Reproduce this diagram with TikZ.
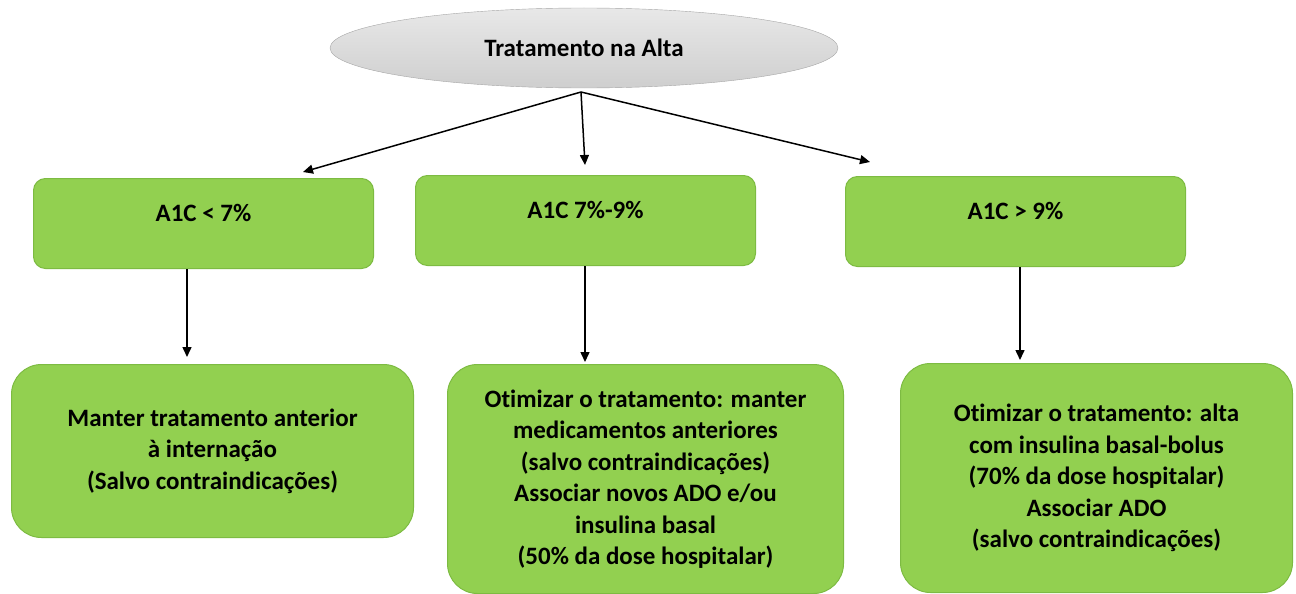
\documentclass[tikz,border=0pt]{standalone}
\usepackage{fontspec}
\setmainfont[Ligatures=NoCommon]{Carlito}
\usetikzlibrary{shapes.geometric,arrows.meta}
\definecolor{boxgreen}{HTML}{92D050}
\definecolor{boxedge}{HTML}{7DBB42}
\begin{document}
\begin{tikzpicture}[x=1pt,y=-1pt,
  every node/.style={font=\bfseries\fontsize{25}{31.5}\selectfont, text=black},
  topbox/.style={draw=boxedge, line width=1pt, fill=boxgreen, rounded corners=12pt,
    inner sep=0pt, minimum width=340pt, text height=43pt, text depth=47pt},
  bottombox/.style={draw=boxedge, line width=1pt, fill=boxgreen, rounded corners=30pt,
    inner sep=0pt, align=center},
  conn/.style={line width=1.5pt, -{Triangle[length=10pt,width=9pt]}}]
\useasboundingbox (0,0) rectangle (1296,594);
\node[ellipse, draw=gray!70, top color=gray!18, bottom color=gray!38, minimum width=508pt,
  minimum height=80pt, inner sep=0pt] (root) at (584,48) {Tratamento na Alta};
\node[topbox, anchor=north west] (a) at (33,178) {A1C < 7\%};
\node[topbox, anchor=north west] (b) at (415,175) {A1C 7\%-9\%};
\node[topbox, anchor=north west] (c) at (845,176) {A1C > 9\%};
\node[bottombox, minimum width=402pt, minimum height=173pt, anchor=north west] (d) at (11,364)
  {Manter tratamento anterior\\à internação\\(Salvo contraindicações)};
\node[bottombox, minimum width=396pt, minimum height=229pt, anchor=north west] (e) at (447,364)
  {Otimizar o tratamento: manter\\medicamentos anteriores\\(salvo contraindicações)\\Associar novos ADO e/ou\\insulina basal\\(50\% da dose hospitalar)};
\node[bottombox, minimum width=392pt, minimum height=229pt, anchor=north west] (f) at (900,363)
  {Otimizar o tratamento: alta\\com insulina basal-bolus\\(70\% da dose hospitalar)\\Associar ADO\\(salvo contraindicações)};
\coordinate (o) at (581,92);
\coordinate (ta) at (303,172);
\coordinate (tb) at (585,165);
\coordinate (tc) at (870,162);
\draw[conn] (o) -- (ta);
\draw[conn] (o) -- (tb);
\draw[conn] (o) -- (tc);
\coordinate (da) at (187,357);
\coordinate (db) at (585,362);
\coordinate (dc) at (1020,360);
\draw[conn] (a.south -| da) -- (da);
\draw[conn] (b.south -| db) -- (db);
\draw[conn] (c.south -| dc) -- (dc);
\end{tikzpicture}
\end{document}
